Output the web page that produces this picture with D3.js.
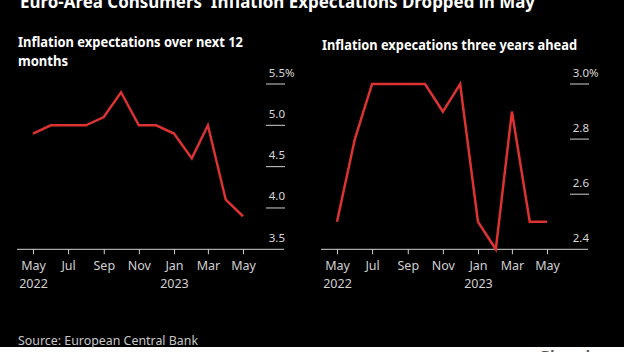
<!DOCTYPE html>
<html>
<head>
<meta charset="utf-8">
<script src="https://cdn.jsdelivr.net/npm/d3@7"></script>
<style>
  html, body { margin: 0; padding: 0; background: #fff; }
  svg { display: block; font-family: "Noto Sans", sans-serif; }
</style>
</head>
<body>
<div id="graph"></div>
<script>
// monthly survey, May 2022 .. May 2023
var months = ["2022-05","2022-06","2022-07","2022-08","2022-09","2022-10","2022-11",
              "2022-12","2023-01","2023-02","2023-03","2023-04","2023-05"];
var next12 = [4.9, 5.0, 5.0, 5.0, 5.1, 5.4, 5.0, 5.0, 4.9, 4.6, 5.0, 4.1, 3.9];
var threeYr = [2.5, 2.8, 3.0, 3.0, 3.0, 3.0, 2.9, 3.0, 2.5, 2.4, 2.9, 2.5, 2.5];
var ticks12 = [3.5, 4.0, 4.5, 5.0, 5.5];
var ticks3y = [2.4, 2.6, 2.8, 3.0];

var W = 624, H = 352;
var parse = d3.timeParse("%Y-%m");
var dates = months.map(parse);

var svg = d3.select("#graph").append("svg")
    .attr("width", W).attr("height", H);

svg.append("rect").attr("width", W).attr("height", 347).attr("fill", "#000");

svg.append("text")
    .attr("x", 20).attr("y", 8)
    .attr("fill", "#fff").attr("font-weight", 700).attr("font-size", 18)
    .attr("textLength", 515).attr("lengthAdjust", "spacingAndGlyphs")
    .text("Euro-Area Consumers' Inflation Expectations Dropped in May");

function panel(opts) {
    var g = svg.append("g").attr("transform", "translate(" + opts.dx + ",0)");

    var x = d3.scaleTime()
        .domain([dates[0], dates[dates.length - 1]])
        .range([33, 243]);
    var y = d3.scaleLinear()
        .domain(opts.domain)
        .range([249.3, 84]);

    opts.title.forEach(function(t, i) {
        g.append("text")
            .attr("x", 18).attr("y", opts.titleY + i * 19)
            .attr("fill", "#fff").attr("font-weight", 700).attr("font-size", 15)
            .attr("textLength", t.len).attr("lengthAdjust", "spacingAndGlyphs")
            .text(t.text);
    });

    // short value gridlines on the right
    var top = opts.ticks[opts.ticks.length - 1];
    g.selectAll(".grid").data(opts.ticks.slice(1)).enter()
        .append("line")
        .attr("x1", 266).attr("x2", 285)
        .attr("y1", function(d) { return y(d); })
        .attr("y2", function(d) { return y(d); })
        .attr("stroke", "#d0d0d0").attr("stroke-width", 1);

    g.selectAll(".ylab").data(opts.ticks).enter()
        .append("text")
        .attr("x", 285)
        .attr("y", function(d) { return y(d) - 7.5; })
        .attr("text-anchor", "end")
        .attr("fill", "#d8d8d8").attr("font-size", 11.5)
        .text(function(d) { return d3.format(".1f")(d); });

    g.append("text")
        .attr("x", 285).attr("y", y(top) - 7.5)
        .attr("fill", "#d8d8d8").attr("font-size", 11.5)
        .text("%");

    // x axis
    var ax = g.append("g")
        .attr("transform", "translate(0,249.3)")
        .call(d3.axisBottom(x)
            .ticks(d3.timeMonth.every(2))
            .tickSize(5)
            .tickPadding(7)
            .tickFormat(d3.timeFormat("%b")));
    ax.select(".domain").remove();
    ax.selectAll(".tick line").attr("stroke", "#d0d0d0");
    ax.selectAll(".tick text")
        .attr("fill", "#d0d0d0").attr("font-size", 12.5)
        .attr("font-family", "Noto Sans, sans-serif");
    ax.selectAll(".tick").filter(function(d) { return d.getMonth() === 4 && d.getFullYear() === 2022 || d.getMonth() === 0; })
        .append("text")
        .attr("y", 39).attr("fill", "#d0d0d0").attr("font-size", 12.5)
        .attr("font-family", "Noto Sans, sans-serif")
        .attr("text-anchor", "middle")
        .text(function(d) { return d.getFullYear(); });

    g.append("line")
        .attr("x1", 17).attr("x2", 284)
        .attr("y1", 249.3).attr("y2", 249.3)
        .attr("stroke", "#d0d0d0").attr("stroke-width", 1);

    var line = d3.line()
        .x(function(d, i) { return x(dates[i]); })
        .y(function(d) { return y(d); });

    g.append("path")
        .datum(opts.values)
        .attr("d", line)
        .attr("fill", "none")
        .attr("stroke", "#dc3232")
        .attr("stroke-width", 2.5)
        .attr("stroke-linejoin", "miter");
}

panel({
    dx: 0,
    domain: [3.5, 5.5],
    ticks: ticks12,
    values: next12,
    titleY: 47,
    title: [{text: "Inflation expectations over next 12", len: 225},
            {text: "months", len: 50}]
});

panel({
    dx: 304,
    domain: [2.4, 3.0],
    ticks: ticks3y,
    values: threeYr,
    titleY: 50,
    title: [{text: "Inflation expecations three years ahead", len: 255}]
});

svg.append("text")
    .attr("x", 18).attr("y", 345)
    .attr("fill", "#c8c8c8").attr("font-size", 13)
    .attr("textLength", 180).attr("lengthAdjust", "spacingAndGlyphs")
    .text("Source: European Central Bank");

svg.append("text")
    .attr("x", 541).attr("y", 361)
    .attr("fill", "#555").attr("font-weight", 700).attr("font-size", 14)
    .text("Bloomberg");
</script>
</body>
</html>
